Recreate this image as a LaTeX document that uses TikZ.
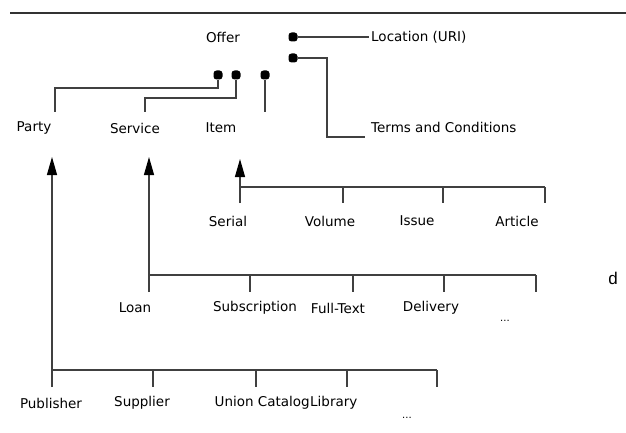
\documentclass[tikz,border=0pt]{standalone}
\usepackage{fontspec}
\setmainfont{DejaVu Sans}
\newfontfamily\plainfont{Liberation Sans}
\usetikzlibrary{arrows.meta}

\begin{document}
\begin{tikzpicture}[x=1pt,y=-1pt,
  lbl/.style={font=\fontsize{13.5}{15}\selectfont,inner sep=2pt},
  more/.style={font=\fontsize{10}{12}\selectfont,inner sep=1pt},
  dotnode/.style={rounded corners=3pt,rectangle,fill=black,inner sep=0pt,minimum size=9pt},
  wire/.style={draw=black!75,line width=1.2pt},
  uparrow/.style={wire,-{Triangle[length=18pt,width=10pt,color=black]}}]
\useasboundingbox (0,0) rectangle (626,433);
\coordinate (rulel) at (10,13);
\coordinate (ruler) at (626,13);
\draw[line width=1.6pt,black!80] (rulel) -- (ruler);

% offer and its parts
\node[lbl] (offer) at (223,37) {Offer};
\node[dotnode] (dotloc) at (293,37) {};
\node[dotnode] (dotterms) at (293,58) {};
\node[dotnode] (dotparty) at (218,75) {};
\node[dotnode] (dotservice) at (236,75) {};
\node[dotnode] (dotitem) at (265,75) {};
\node[lbl,anchor=west] (location) at (369,37) {Location (URI)};
\node[lbl,anchor=west] (terms) at (369,127) {Terms and Conditions};
\node[lbl] (party) at (34,128) {Party};
\node[lbl] (service) at (135,128) {Service};
\node[lbl] (item) at (221,128) {Item};

\coordinate (partybend) at (55,88);
\coordinate (partyend) at (55,112);
\coordinate (servicebend) at (145,98);
\coordinate (serviceend) at (145,112);
\coordinate (itemend) at (265,112);
\coordinate (termsbend) at (327,137);
\coordinate (termsend) at (365,137);

\draw[wire] (dotloc) -- (location);
\draw[wire] (dotterms) -| (termsbend) -- (termsend);
\draw[wire] (dotparty) |- (partybend) -- (partyend);
\draw[wire] (dotservice) |- (servicebend) -- (serviceend);
\draw[wire] (dotitem) -- (itemend);

% items
\node[lbl] (serial) at (228,221) {Serial};
\node[lbl] (volume) at (330,221) {Volume};
\node[lbl] (issue) at (417,221) {Issue};
\node[lbl] (article) at (517,221) {Article};
\coordinate (sbar) at (0,187);
\foreach \x [count=\i] in {240,343,443,545}
  \coordinate (st\i) at (\x,203);
\draw[wire] (st1 |- sbar) -- (st4 |- sbar);
\foreach \i in {2,3,4}
  \draw[wire] (st\i |- sbar) -- (st\i);
\coordinate (itemtip) at (240,159);
\draw[uparrow] (st1) -- (itemtip);

% services
\node[lbl] (loan) at (135,308) {Loan};
\node[lbl] (subscription) at (255,308) {Subscription};
\node[lbl] (fulltext) at (338,308) {Full-Text};
\node[lbl] (delivery) at (431,308) {Delivery};
\node[more] (moreservice) at (505,321) {...};
\coordinate (lbar) at (0,275);
\foreach \x [count=\i] in {149,250,353,444,536}
  \coordinate (lt\i) at (\x,292);
\draw[wire] (lt1 |- lbar) -- (lt5 |- lbar);
\foreach \i in {2,...,5}
  \draw[wire] (lt\i |- lbar) -- (lt\i);
\coordinate (servicetip) at (149,157);
\draw[uparrow] (lt1) -- (servicetip);

% parties
\node[lbl] (publisher) at (51,403) {Publisher};
\node[lbl] (supplier) at (142,403) {Supplier};
\node[lbl,anchor=east,inner sep=0pt] (union) at (310,403) {Union Catalog};
\node[lbl,anchor=west,inner sep=0pt] (library) at (union.east) {Library};
\node[more] (moreparty) at (407,418) {...};
\coordinate (pbar) at (0,370);
\foreach \x [count=\i] in {52,153,256,347,437}
  \coordinate (pt\i) at (\x,387);
\draw[wire] (pt1 |- pbar) -- (pt5 |- pbar);
\foreach \i in {2,...,5}
  \draw[wire] (pt\i |- pbar) -- (pt\i);
\coordinate (partytip) at (52,157);
\draw[uparrow] (pt1) -- (partytip);

\node[font=\plainfont\fontsize{17}{20}\selectfont] (dmark) at (613,278) {d};
\end{tikzpicture}
\end{document}
